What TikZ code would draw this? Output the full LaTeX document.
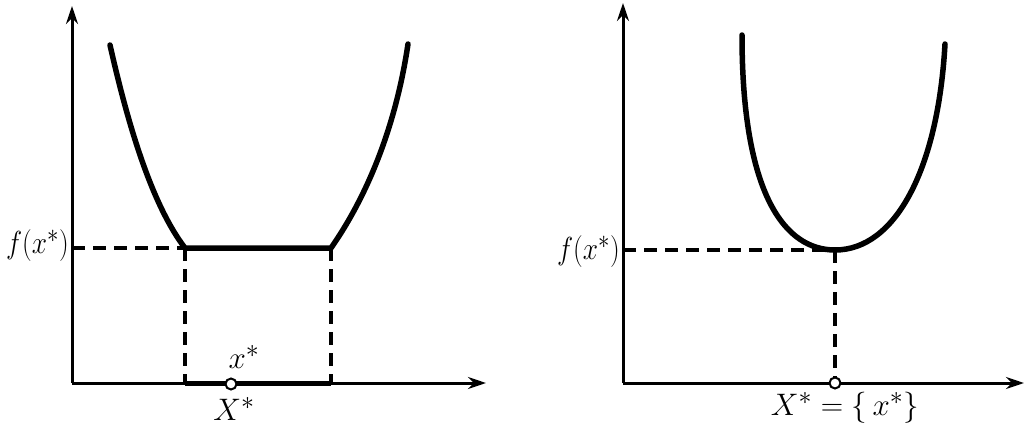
\documentclass[tikz,border=0pt]{standalone}
\usetikzlibrary{arrows.meta}
\newcommand{\biglab}[1]{\scalebox{1.25}{\Huge #1}}
\newcommand{\flab}[1]{\scalebox{1.1}[1.28]{\Huge #1}}
\begin{document}
\begin{tikzpicture}[x=1pt,y=-1pt,
  axis/.style={line width=3pt,-{Stealth[length=18pt,width=12pt]}},
  curve/.style={line width=5.5pt,line cap=round},
  guide/.style={line width=3.2pt,dash pattern=on 13pt off 8pt},
  dot/.style={circle,draw,fill=white,line width=2pt,inner sep=0pt,minimum size=11pt},
  lab/.style={inner sep=0pt}]
\useasboundingbox (0,0) rectangle (1026,434);
% ---------- left plot ----------
\coordinate (O1) at (72,383);
\coordinate (Y1) at (72,6);
\coordinate (X1) at (486,383);
\coordinate (A1) at (185,248);
\coordinate (B1) at (331,248);
\coordinate (A1b) at (185,383);
\coordinate (B1b) at (331,383);
\coordinate (F1) at (72,248);
\coordinate (C1s) at (110,45);
\coordinate (C1e) at (408,44);
\draw[axis] (O1) -- (Y1);
\draw[axis] (O1) -- (X1);
\draw[curve] (C1s) .. controls (128,125) and (152,205) .. (A1) -- (B1) .. controls (368,195) and (396,125) .. (C1e);
\draw[guide] (F1) -- (A1);
\draw[guide] (A1) -- (A1b);
\draw[guide] (B1) -- (B1b);
\draw[line width=5pt] (A1b) -- (B1b);
\node[dot] (p1) at (231,384) {};
\node[lab] (xs1) at (244,357) {\biglab{$x^*$}};
\node[lab] (Xs1) at (234,409) {\biglab{$X^*$}};
\node[lab,anchor=east] (f1) at (69,246) {\flab{$f(x^*)$}};
% ---------- right plot ----------
\coordinate (O2) at (623,383);
\coordinate (Y2) at (623,3);
\coordinate (X2) at (1024,383);
\coordinate (M2) at (835,250);
\coordinate (M2b) at (835,383);
\coordinate (F2) at (623,250);
\coordinate (C2s) at (742,35);
\coordinate (C2e) at (945,44);
\draw[axis] (O2) -- (Y2);
\draw[axis] (O2) -- (X2);
\draw[curve] (C2s) .. controls (742,195) and (785,250) .. (M2) .. controls (895,250) and (938,170) .. (C2e);
\draw[guide] (F2) -- (M2);
\draw[guide] (M2) -- (M2b);
\node[dot] (p2) at (M2b) {};
\node[lab,anchor=east] (f2) at (620,252) {\flab{$f(x^*)$}};
\node[lab] (Xs2) at (845,408) {\biglab{$X^*=\{\,x^*\}$}};
\end{tikzpicture}
\end{document}
